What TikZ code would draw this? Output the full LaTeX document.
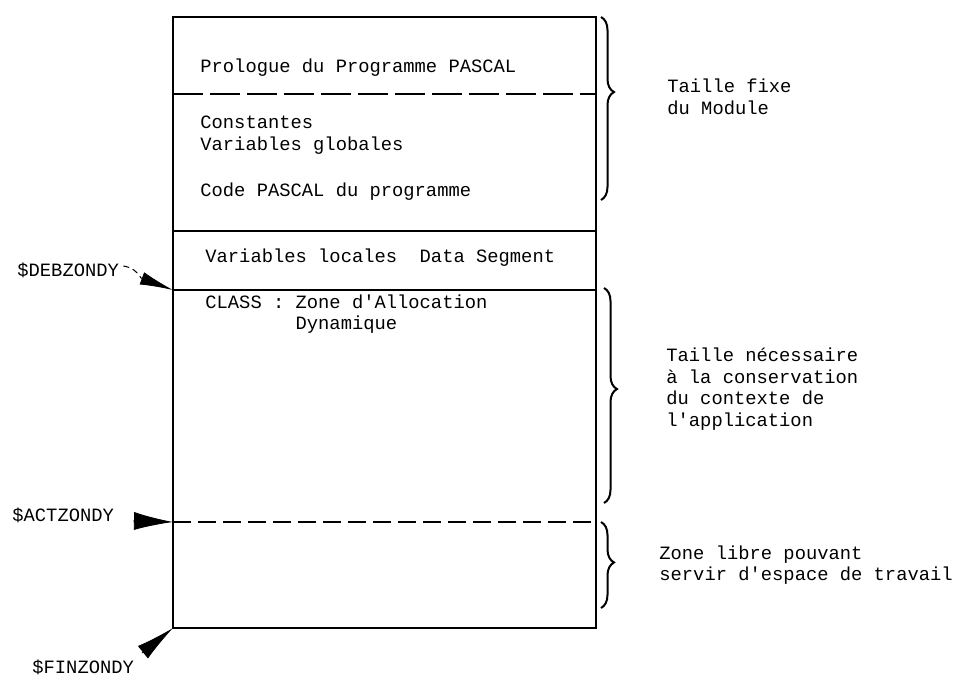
\documentclass[tikz,border=0pt]{standalone}
\usepackage{fontspec}
\setmainfont{Liberation Mono}
\usetikzlibrary{arrows.meta, decorations.pathreplacing, calc}

\begin{document}
\begin{tikzpicture}[
      x=0.5pt, y=-0.5pt,
      txt/.style  = {anchor=west, inner sep=0pt, align=left,
                     font=\fontsize{9.4}{10.8}\selectfont},
      wall/.style = {line width=1pt},
      sep/.style  = {line width=1.3pt},
      cut/.style  = {line width=1.4pt, dash pattern=on #1 off 3.5pt},
      brc/.style  = {decorate, line width=1pt,
                     decoration={brace, amplitude=6.5pt, aspect=#1}},
      pointer/.style args = {#1/#2}{-{Latex[length=#1, width=#2]}, line width=0.4pt},
      tail/.style = {densely dashed, line width=0.5pt}
    ]
      \useasboundingbox (0,0) rectangle (966,676);

      % ===================== Zone boundaries =====================
      \coordinate (tl)   at (173,17);
      \coordinate (br)   at (596,628);
      \coordinate (pro)  at (173,94);
      \coordinate (dseg) at (173,231);
      \coordinate (deb)  at (173,290);
      \coordinate (act)  at (173,522);
      \coordinate (fin)  at (173,628);

      % ===================== Module frame =====================
      \draw[wall] (tl) rectangle (br);
      \draw[cut=15pt] (pro) -- (pro -| br);
      \draw[sep] (dseg) -- (dseg -| br);
      \draw[sep] (deb) -- (deb -| br);
      \draw[cut=9pt] (act) -- (act -| br);

      % ===================== Contents =====================
      \node[txt] (prolog) at (200,68)  {Prologue du Programme PASCAL};
      \node[txt] (glob)   at (200,135) {Constantes\\Variables globales};
      \node[txt] (code)   at (200,192) {Code PASCAL du programme};
      \node[txt] (locs)   at (205,258) {Variables locales~~Data Segment};
      \node[txt] (class)  at (205,314) {CLASS : Zone d\textquotesingle Allocation\\\phantom{CLASS : }Dynamique};

      % ===================== Braces and notes =====================
      \draw[brc=0.41] (601,17)  -- (601,200);
      \draw[brc=0.47] (604,288) -- (604,503);
      \draw[brc=0.47] (601,522) -- (601,608);

      \node[txt] (fixe) at (667,97)  {Taille fixe\\du Module};
      \node[txt] (ctx)  at (666,389) {Taille nécessaire\\à la conservation\\du contexte de\\l\textquotesingle application};
      \node[txt] (free) at (659,565) {Zone libre pouvant\\servir d\textquotesingle espace de travail};

      % ===================== Pointers =====================
      \node[txt] (debl) at (17,270) {\$DEBZONDY};
      \node[txt] (actl) at (12,515) {\$ACTZONDY};
      \node[txt] (finl) at (32,667) {\$FINZONDY};

      \coordinate (debt) at (141,278);
      \coordinate (actt) at (133,521);
      \coordinate (fint) at (142,653);

      \draw[tail] ($(debl.east)+(4,-4)$) to[bend left=25] (debt);
      \draw[pointer=16.6pt/6.5pt] (debt) -- (deb);
      \draw[pointer=19.5pt/9pt]   (actt) -- (act);
      \draw[pointer=19.3pt/8pt]   (fint) -- (fin);

    \end{tikzpicture}
\end{document}
